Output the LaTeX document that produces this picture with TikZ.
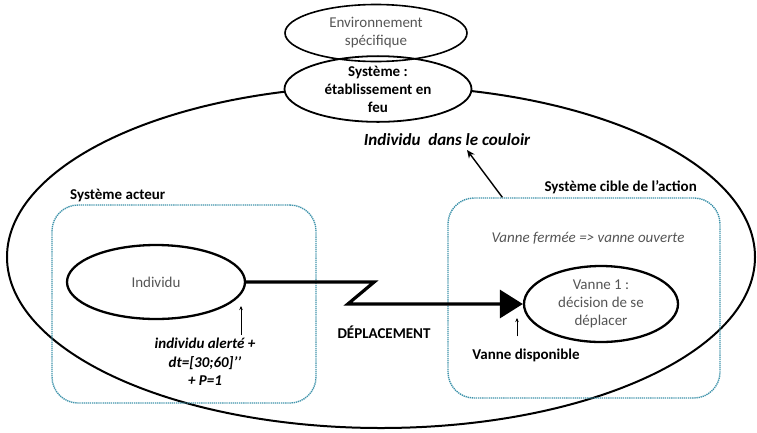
\documentclass[tikz,border=0pt]{standalone}
\usepackage{fontspec}
\setmainfont{Carlito}
\usetikzlibrary{shapes.geometric, arrows.meta, calc}
\definecolor{dotblue}{HTML}{3F93AB}
\definecolor{greytext}{HTML}{555555}

\begin{document}
\begin{tikzpicture}[
    x=1pt, y=-1pt,
    every node/.style={font=\fontsize{15}{18}\selectfont, align=center, inner sep=0pt},
    oval/.style={draw, ellipse, line width=2.3pt},
    frame/.style={draw=dotblue, rounded corners=26pt, line width=1.4pt, dash pattern=on 1.3pt off 0.8pt},
    title/.style={font=\fontsize{15}{18}\selectfont\bfseries},
    soft/.style={text=greytext},
    move/.style={line width=3.2pt, -{Triangle[length=23pt, width=28pt]}},
    tick/.style={line width=0.7pt, -{Stealth[length=4pt, width=3.5pt]}},
    arrow/.style={line width=1.4pt, -{Stealth[length=8pt, width=7pt]}},
]
\useasboundingbox (0,0) rectangle (757,432);

% systeme global
\node[draw, ellipse, line width=2pt, minimum width=748pt, minimum height=342pt] (etab) at (381,257) {};
\node[oval, line width=1.8pt, fill=white, minimum width=187pt, minimum height=65pt, title] (sys) at (378,89) {Système :\\établissement en\\feu};
\node[oval, line width=1.6pt, minimum width=182pt, minimum height=57pt, soft] (env) at (376,33) {Environnement\\spécifique};

% sous-systemes
\node[frame, minimum width=264pt, minimum height=198pt] (acteur) at (184,304) {};
\node[frame, minimum width=272pt, minimum height=200pt] (cible) at (584,298) {};
\node[title, anchor=west] (tacteur) at (70,195) {Système acteur};
\node[title, anchor=east] (tcible) at (697,187) {Système cible de l’action};

\node[oval, minimum width=178pt, minimum height=74pt, soft] (ind) at (156,282) {Individu};
\node[oval, minimum width=154pt, minimum height=76pt, soft] (van) at (601,304) {Vanne 1 :\\décision de se\\déplacer};
\node[soft, font=\fontsize{15}{18}\selectfont\itshape] (vf) at (588,238) {Vanne fermée => vanne ouverte};

\node[title] (dep) at (384,332) {DÉPLACEMENT};
\node[title] (dispo) at (526,355) {Vanne disponible};
\node[font=\fontsize{15}{18.5}\selectfont\bfseries\itshape] (alrt) at (205,362) {individu alerté +\\dt=[30;60]’’\\+ P=1};
\node[font=\fontsize{17}{20}\selectfont\bfseries\itshape] (coul) at (447,140) {Individu\ \ dans le couloir};

\coordinate (p1) at (241,306);
\coordinate (p2) at (517,318);
\coordinate (c1) at (467,150);

\draw[move] (ind.east) -- ++(128,0) -- ($(van.west)+(-175,0)$) -- (van.west);
\draw[tick] (alrt.north -| p1) ++(0,-3) -- (p1);
\draw[tick] (dispo.north -| p2) ++(0,-12) -- (p2);
\draw[arrow] ($(cible.north west)+(55,0)$) -- (c1);
\end{tikzpicture}
\end{document}
